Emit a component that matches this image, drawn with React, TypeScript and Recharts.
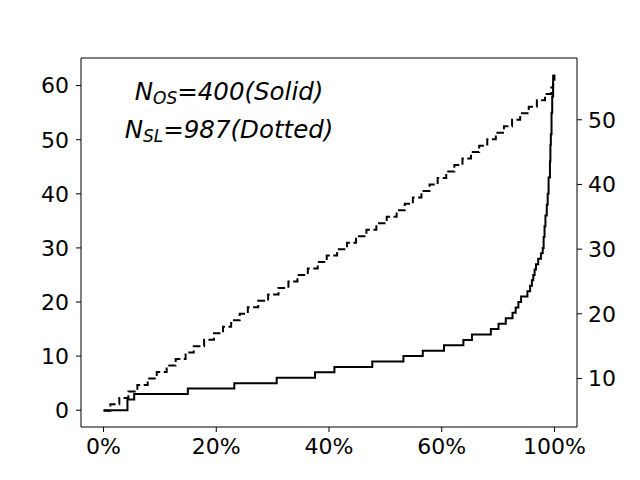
import React from 'react';
import { LineChart, Line, XAxis, YAxis, ReferenceLine } from 'recharts';

// x position (0..100 along axis) where each step starts, and the level it steps to
const solidPos = [0, 5.3, 6.8, 18.7, 29.0, 38.4, 46.9, 51.2, 59.6, 66.5, 70.8, 75.5, 79.8, 81.7, 85.9, 87.6, 89.2, 90.7, 91.4, 92.0, 92.6, 94.0, 94.6, 95.0, 95.3, 95.6, 95.9, 96.4, 97.0, 97.4, 97.6, 97.8, 98.0, 98.3, 98.5, 98.7, 99.0, 99.1, 99.2, 99.35, 99.5, 99.7];
const solidVal = [0, 2, 3, 4, 5, 6, 7, 8, 9, 10, 11, 12, 13, 14, 15, 16, 17, 18, 19, 20, 21, 22, 23, 24, 25, 26, 27, 28, 29, 30, 32, 34, 36, 38, 40, 43, 46, 49, 51, 55, 58, 62];

const dashPos = [0, 1.5, 3.5, 5.5, 7.5, 9.8, 11.8, 14, 16, 18.2, 20, 22.3, 24.5, 26.5, 28.3, 30.2, 32, 34.3, 36.5, 38.8, 41, 43, 45.3, 47.5, 49.5, 51.8, 54, 56, 58.3, 60.5, 62.8, 65, 66.8, 68.6, 70.5, 72.3, 74.1, 76, 77.8, 79.6, 81.5, 83.3, 85.1, 87, 88.8, 90.6, 92.4, 94.3, 96.1, 97.9, 99.3, 99.7, 100];
const dashVal = [5, 6, 7, 8, 9, 10, 11, 12, 13, 14, 15, 16, 17, 18, 19, 20, 21, 22, 23, 24, 25, 26, 27, 28, 29, 30, 31, 32, 33, 34, 35, 36, 37, 38, 39, 40, 41, 42, 43, 44, 45, 46, 47, 48, 49, 50, 51, 52, 53, 54, 55, 56, 57];

const xTicks = [0, 25, 50, 75, 100];
const xLabels = ['0%', '20%', '40%', '60%', '100%'];
const leftTicks = [0, 10, 20, 30, 40, 50, 60];
const rightTicks = [10, 20, 30, 40, 50];

const solidData = solidPos.map((p, i) => ({ pos: p, v: solidVal[i] }));
const dashData = dashPos.map((p, i) => ({ pos: p, v: dashVal[i] }));

const font = 'DejaVu Sans';
const tickStyle = { fontFamily: font, fontSize: 22, fill: '#000' };

export default function App() {
    return (
        <div style={{ position: 'relative', width: 640, height: 480 }}>
            <style>{'body{margin:0}'}</style>
            <LineChart width={640} height={480} margin={{ top: 58, right: 0, left: 0, bottom: 0 }}>
                <XAxis
                    dataKey="pos"
                    type="number"
                    domain={[-5, 105]}
                    ticks={xTicks}
                    tickFormatter={(v) => xLabels[xTicks.indexOf(v)]}
                    height={53}
                    tickSize={5}
                    tickMargin={6}
                    tick={tickStyle}
                    stroke="#000"
                    allowDataOverflow
                />
                <YAxis
                    yAxisId="left"
                    type="number"
                    domain={[-3.1, 65.1]}
                    ticks={leftTicks}
                    width={81}
                    tickSize={5}
                    tickMargin={7}
                    tick={tickStyle}
                    stroke="#000"
                    allowDataOverflow
                />
                <YAxis
                    yAxisId="right"
                    orientation="right"
                    type="number"
                    domain={[2.5, 59.55]}
                    ticks={rightTicks}
                    width={63}
                    tickSize={5}
                    tickMargin={6}
                    tick={tickStyle}
                    stroke="#000"
                    allowDataOverflow
                />
                <ReferenceLine yAxisId="left" y={65.1} stroke="#000" />
                <Line
                    yAxisId="right"
                    data={dashData}
                    dataKey="v"
                    type="stepAfter"
                    stroke="#000"
                    strokeWidth={2}
                    strokeDasharray="7.5 3.5"
                    dot={false}
                    isAnimationActive={false}
                />
                <Line
                    yAxisId="left"
                    data={solidData}
                    dataKey="v"
                    type="stepAfter"
                    stroke="#000"
                    strokeWidth={2}
                    dot={false}
                    isAnimationActive={false}
                />
            </LineChart>
            <svg width={640} height={480} style={{ position: 'absolute', left: 0, top: 0, pointerEvents: 'none' }}>
                <text x={229} y={100} textAnchor="middle" fontFamily={font} fontStyle="italic" fontSize={24.5} fill="#000">
                    N<tspan fontSize={17} dy={4}>OS</tspan>
                    <tspan dy={-4}>=400(Solid)</tspan>
                </text>
                <text x={229} y={138} textAnchor="middle" fontFamily={font} fontStyle="italic" fontSize={24.5} fill="#000">
                    N<tspan fontSize={17} dy={4}>SL</tspan>
                    <tspan dy={-4}>=987(Dotted)</tspan>
                </text>
            </svg>
        </div>
    );
}
